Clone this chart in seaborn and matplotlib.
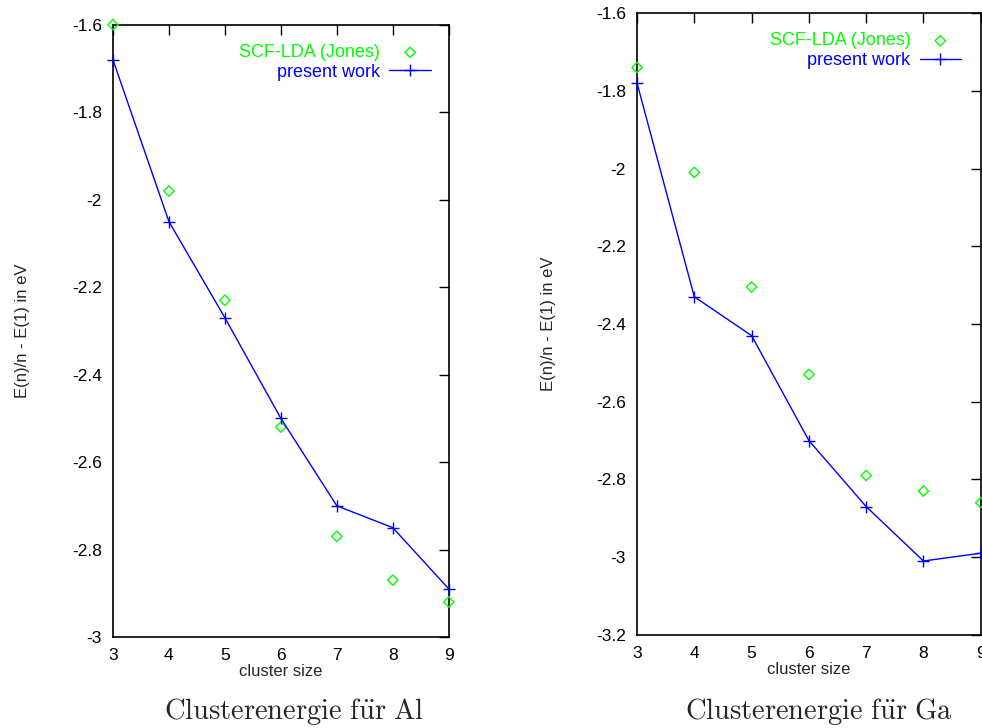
import numpy as np
import pandas as pd
import matplotlib
matplotlib.use('Agg')
import matplotlib.pyplot as plt
import seaborn as sns
from matplotlib.ticker import FuncFormatter

# DADOS
cluster_size = [3, 4, 5, 6, 7, 8, 9]
jones_al = [-1.60, -1.98, -2.23, -2.52, -2.77, -2.87, -2.92]
present_al = [-1.68, -2.05, -2.27, -2.50, -2.70, -2.75, -2.89]
jones_ga = [-1.74, -2.01, -2.305, -2.53, -2.79, -2.83, -2.86]
present_ga = [-1.78, -2.33, -2.43, -2.70, -2.87, -3.01, -2.99]

yticks_al = [-1.6, -1.8, -2.0, -2.2, -2.4, -2.6, -2.8, -3.0]
yticks_ga = [-1.6, -1.8, -2.0, -2.2, -2.4, -2.6, -2.8, -3.0, -3.2]

sns.set_style('white')
plt.rcParams['font.family'] = ['Liberation Sans', 'DejaVu Sans']
plt.rcParams['axes.unicode_minus'] = False
plt.rcParams['mathtext.fontset'] = 'cm'

fig = plt.figure(figsize = (9.82, 7.28), dpi = 100)
ax1 = fig.add_axes([0.115, 0.125, 0.342, 0.841])
ax2 = fig.add_axes([0.6487, 0.128, 0.350, 0.854])


def desenha(ax, jones, present, yticks, ylim, bbox, ylabelpad):
    df = pd.DataFrame({'n': cluster_size, 'jones': jones, 'present': present})
    sns.scatterplot(x = 'n', y = 'jones', data = df, ax = ax, marker = 'D', s = 28,
                    facecolor = 'none', edgecolor = '#00ff00', linewidth = 1.0,
                    label = 'SCF-LDA (Jones)', clip_on = False, zorder = 3)
    sns.lineplot(x = 'n', y = 'present', data = df, ax = ax, color = '#0000ff',
                 marker = '+', markersize = 8.5, markeredgewidth = 1.0,
                 markeredgecolor = '#0000ff', linewidth = 1.0,
                 label = 'present work', clip_on = False, zorder = 4)
    ax.set_xlim(3, 9)
    ax.set_ylim(*ylim)
    ax.set_xticks(cluster_size)
    ax.set_yticks(yticks)
    ax.yaxis.set_major_formatter(FuncFormatter(lambda v, p: '%g' % round(v, 2)))
    ax.tick_params(direction = 'in', length = 7, width = 1, top = True, right = True,
                   labelsize = 12.5, colors = 'black', pad = 8)
    for s in ax.spines.values():
        s.set_color('black')
        s.set_linewidth(1.2)
    ax.set_xlabel('cluster size', fontsize = 12, labelpad = 1)
    ax.set_ylabel('E(n)/n - E(1) in eV', fontsize = 12, labelpad = ylabelpad)
    leg = ax.legend(loc = 'upper right', bbox_to_anchor = bbox, frameon = False,
                    markerfirst = False, fontsize = 13,
                    handlelength = 2.3, handletextpad = 0.5, labelspacing = 0.15)
    for t, c in zip(leg.get_texts(), ['#00ff00', '#0000ff']):
        t.set_color(c)


desenha(ax1, jones_al, present_al, yticks_al, (-3.0, -1.6), (0.995, 0.995), 30)
desenha(ax2, jones_ga, present_ga, yticks_ga, (-3.2, -1.6), (0.99, 0.995), 29)

fig.text(0.300, 0.012, r'$\mathrm{Clusterenergie\ f\ddot{u}r\ Al}$', fontsize = 20.5, ha = 'center')
fig.text(0.834, 0.012, r'$\mathrm{Clusterenergie\ f\ddot{u}r\ Ga}$', fontsize = 20.5, ha = 'center')

plt.savefig('out.png', dpi = 100)
